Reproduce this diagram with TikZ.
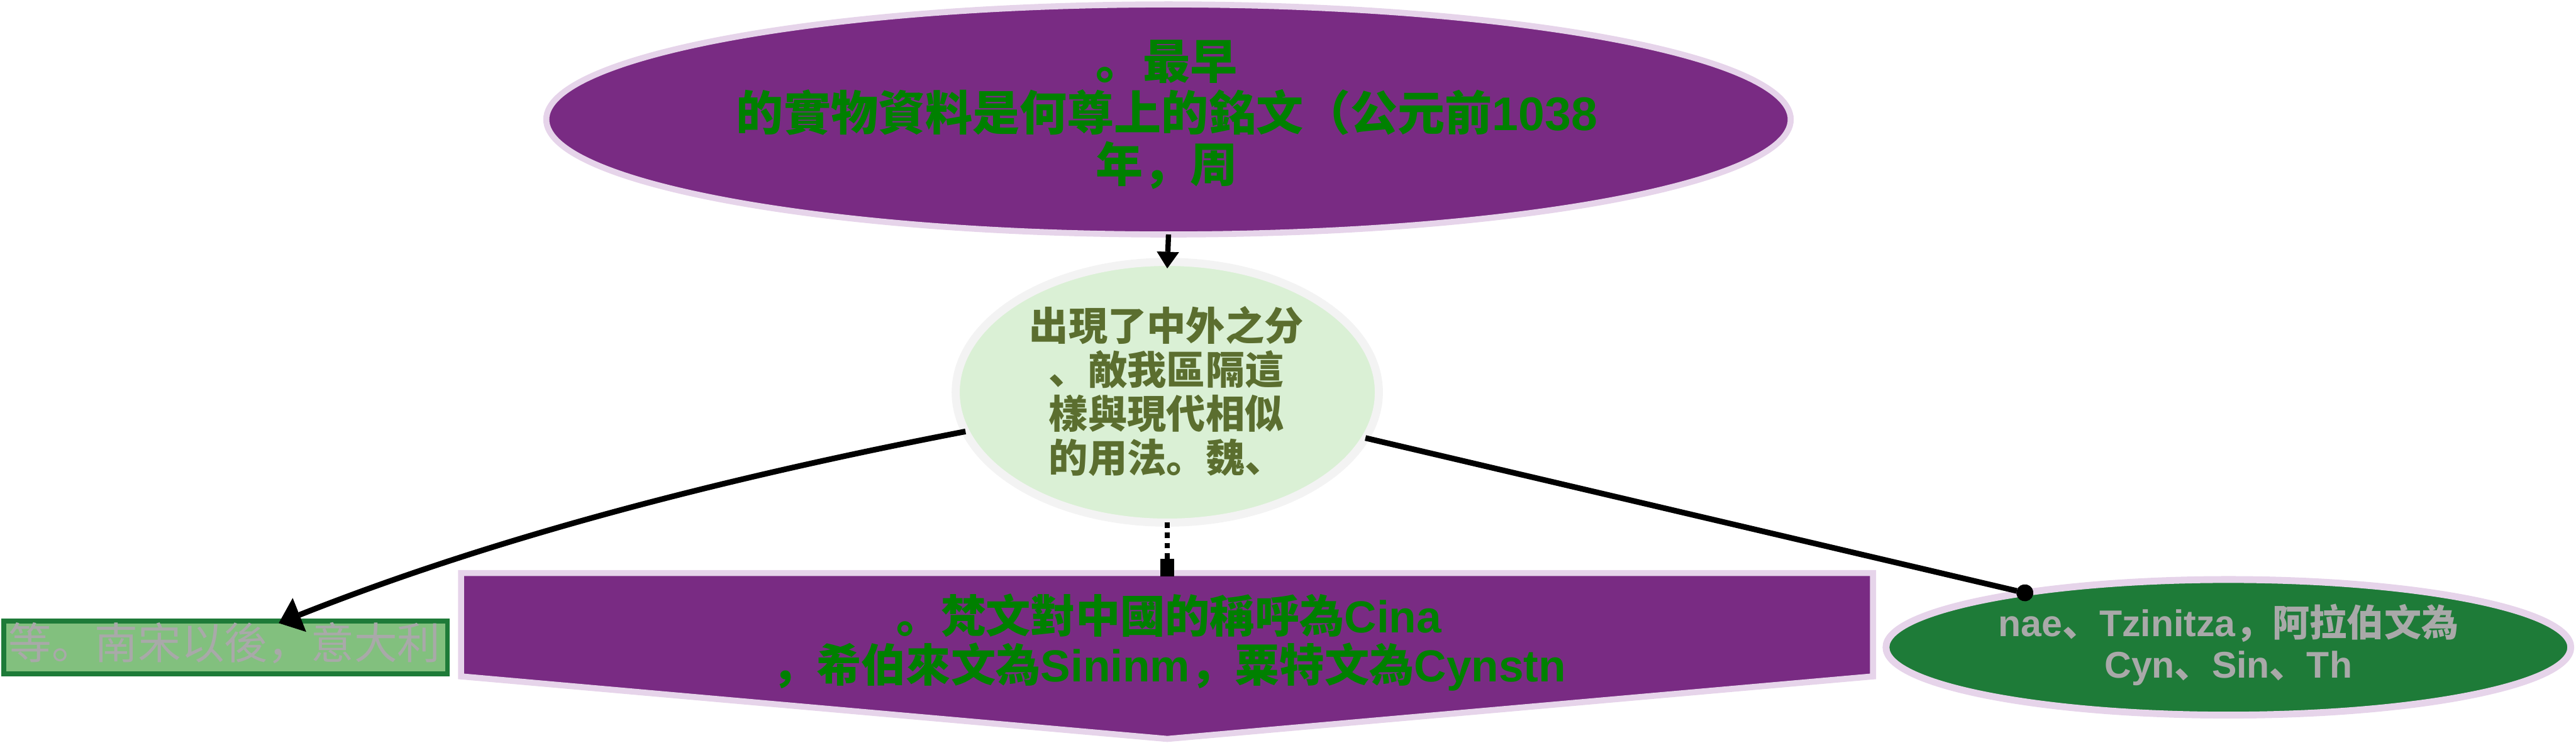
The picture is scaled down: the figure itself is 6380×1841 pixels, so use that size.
\documentclass[tikz,border=0pt]{standalone}
\usepackage{fontspec}
\newfontfamily\cjk{Noto Sans CJK SC}
\newfontfamily\lat{Liberation Sans}
\usetikzlibrary{shapes.geometric,arrows.meta,calc}
\definecolor{purp}{HTML}{792B83}
\definecolor{lav}{HTML}{E6D4EA}
\definecolor{tgreen}{HTML}{008000}
\definecolor{paleg}{HTML}{DAF0D5}
\definecolor{paleb}{HTML}{F3F3F3}
\definecolor{olive}{HTML}{5B6E2F}
\definecolor{dkg}{HTML}{1E7B38}
\definecolor{ltg}{HTML}{82C07E}
\definecolor{gtext}{HTML}{A9A9A9}
\tikzset{
  conn/.style={draw=black,line width=14pt},
  shapebox/.style={inner sep=0pt,outer sep=0pt},
  txt/.style={inner sep=0pt,align=center},
}
\begin{document}
\begin{tikzpicture}[x=1pt,y=-1pt]
\useasboundingbox (0,0) rectangle (6380,1841);
% top ellipse
\node[shapebox,ellipse,fill=purp,draw=lav,line width=15pt,minimum width=3082pt,minimum height=570pt] (top) at (2894,296) {};
\node[txt,text=tgreen,font=\cjk\bfseries\fontsize{117}{128}\selectfont] (toptext) at (2890,284)
  {。最早\\的實物資料是何尊上的銘文（公元前{\lat 1038}\\年，周};
% middle ellipse
\node[shapebox,ellipse,fill=paleg,draw=paleb,line width=20pt,minimum width=1048pt,minimum height=646pt] (mid) at (2891,972) {};
\node[txt,text=olive,font=\cjk\bfseries\fontsize{97}{109}\selectfont] (midtext) at (2889,970)
  {出現了中外之分\\、敵我區隔這\\樣與現代相似\\的用法。魏、};
% left box
\node[shapebox,rectangle,fill=ltg,draw=dkg,line width=12pt,minimum width=1099pt,minimum height=131pt] (lbox) at (558.5,1604.5) {};
\node[txt,text=gtext,font=\cjk\fontsize{107}{118}\selectfont] (lboxtext) at (556,1593) {等。南宋以後，意大利};
% pentagon
\draw[fill=purp,draw=lav,line width=15pt,line join=miter] (1142,1420) -- (4639,1420) -- (4639,1676) -- (2891,1831) -- (1142,1676) -- cycle;
\coordinate (penttop) at (2891,1427);
\node[txt,text=tgreen,font=\cjk\bfseries\fontsize{111}{121}\selectfont] (pent) at (2895,1592)
  {。梵文對中國的稱呼為{\lat Cina}\\，希伯來文為{\lat Sininm}，粟特文為{\lat Cynstn}};
% right ellipse
\node[shapebox,ellipse,fill=dkg,draw=lav,line width=17pt,minimum width=1696pt,minimum height=336pt] (right) at (5519,1604) {};
\node[txt,text=gtext,font=\cjk\bfseries\fontsize{92}{103}\selectfont] (righttext) at (5519,1598)
  {{\lat nae}、{\lat Tzinitza}，阿拉伯文為\\{\lat Cyn}、{\lat Sin}、{\lat Th}};
% connectors
\draw[conn,line width=13pt,-{Triangle[length=41pt,width=55pt,line width=1pt]}] (top.south) -- ($(mid.north)+(0,16)$);
\draw[conn,-{Triangle[length=55pt,width=90pt,line width=1pt]}] (mid.191) .. controls (1691,1204) and (1156,1359) .. ($(lbox.north)+(132,5)$);
\draw[conn,-{Circle[length=42pt,width=42pt,line width=1pt]},shorten >=-21pt] (mid.347) -- (right.165);
\draw[conn,line width=13pt,dash pattern=on 14pt off 11pt,-{Square[length=43pt,width=34pt,line width=1pt]}] (mid.south) -- (penttop);
\end{tikzpicture}
\end{document}
